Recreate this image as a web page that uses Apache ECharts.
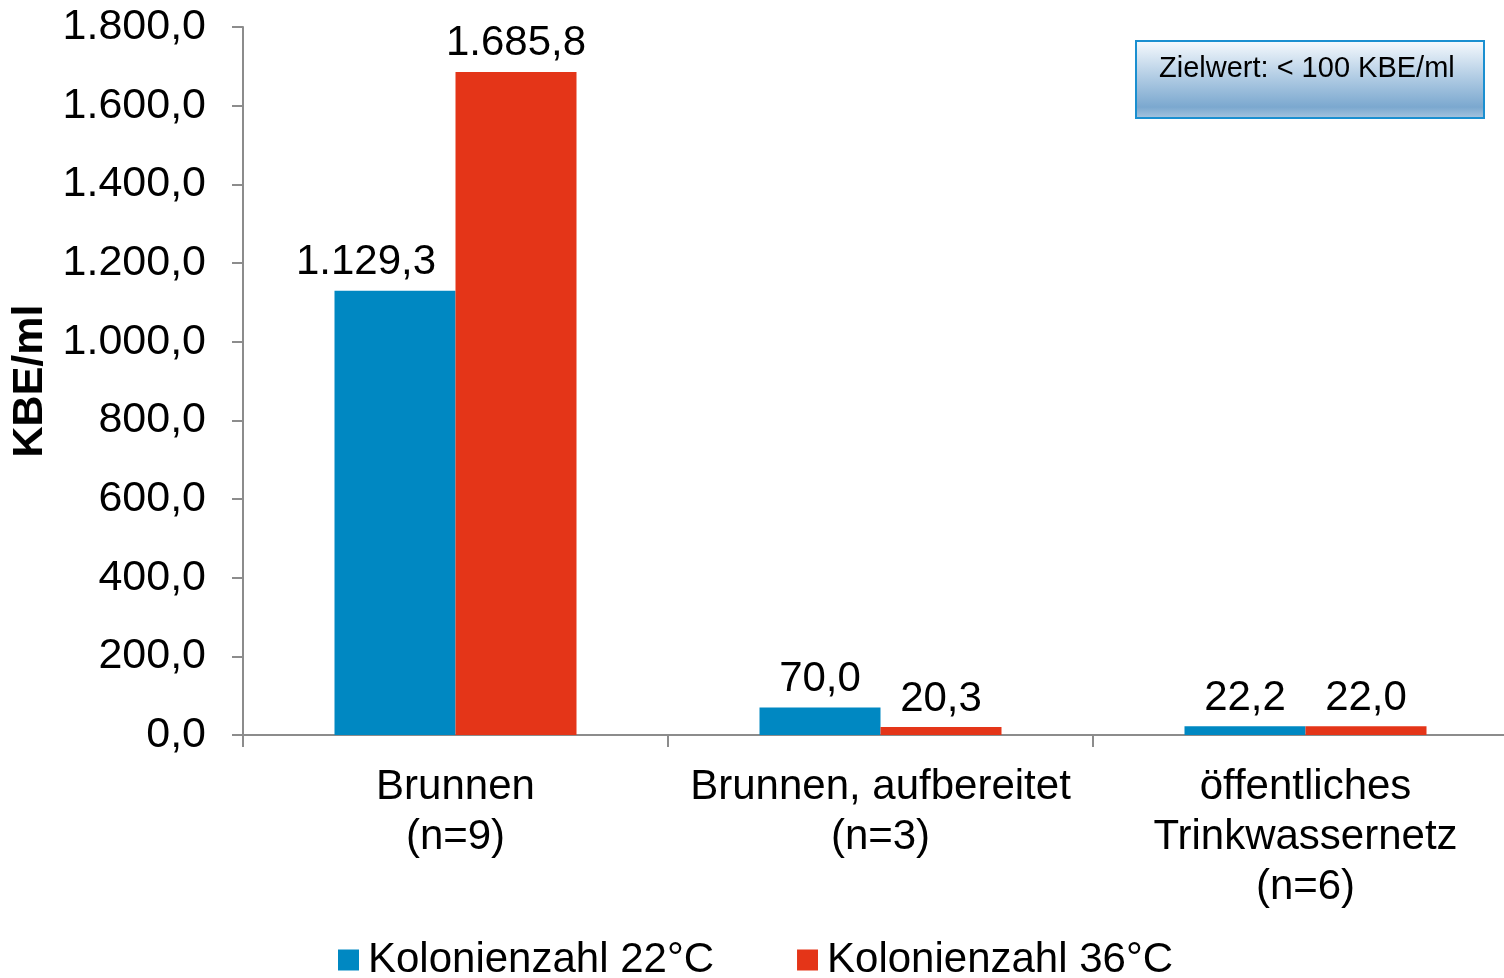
<!DOCTYPE html>
<html style="height: 100%">
<head>
    <meta charset="utf-8">
    <title>Kolonienzahl</title>
    <script src="https://cdn.jsdelivr.net/npm/echarts/dist/echarts.min.js"></script>
</head>
<body style="height: 100%; margin: 0; background: #fff">
    <div id="main" style="width: 1504px; height: 978px"></div>
    <script type="text/javascript">
        // Daten
        var categories = ['Brunnen\n(n=9)', 'Brunnen, aufbereitet\n(n=3)', 'öffentliches\nTrinkwassernetz\n(n=6)'];
        var kolonien22 = [1129.3, 70.0, 22.2];
        var kolonien36 = [1685.8, 20.3, 22.0];
        var seriesNames = ['Kolonienzahl 22°C', 'Kolonienzahl 36°C'];

        // deutsche Zahlenformatierung: 1.129,3
        function fmt(v) {
            var parts = Number(v).toFixed(1).split('.');
            var int = parts[0].replace(/\B(?=(\d{3})+(?!\d))/g, '.');
            return int + ',' + parts[1];
        }

        var font = 'Liberation Sans, Arial, sans-serif';
        var myChart = echarts.init(document.getElementById('main'));

        var labelStyle = {
            show: true,
            position: 'top',
            distance: 7,
            fontSize: 42,
            fontFamily: font,
            color: '#000',
            formatter: function (p) { return fmt(p.value); }
        };

        // erstes Label leicht nach links verschoben (wie im Original)
        var data22 = kolonien22.map(function (v, i) {
            return i === 0 ? { value: v, label: { offset: [-29, 0] } } : v;
        });

        var option = {
            animation: false,
            grid: { left: 243, top: 27, bottom: 243, width: 1275, outerBoundsMode: 'none', containLabel: false },
            legend: {
                bottom: -8,
                left: 333,
                itemWidth: 21,
                itemHeight: 21,
                itemGap: 83,
                icon: 'rect',
                textStyle: { fontSize: 42, fontFamily: font, color: '#000', padding: [0, 0, 0, 4] },
                data: seriesNames
            },
            xAxis: {
                type: 'category',
                data: categories,
                axisLine: { lineStyle: { color: '#8c8c8c', width: 2 } },
                axisTick: { show: true, length: 12, lineStyle: { color: '#8c8c8c', width: 2 } },
                axisLabel: { fontSize: 42, fontFamily: font, color: '#000', lineHeight: 50, margin: 27, interval: 0 }
            },
            yAxis: {
                type: 'value',
                min: 0,
                max: 1800,
                interval: 200,
                name: 'KBE/ml',
                nameLocation: 'middle',
                nameGap: 188,
                nameTextStyle: { fontSize: 43, fontWeight: 'bold', fontFamily: font, color: '#000' },
                axisLine: { show: true, lineStyle: { color: '#8c8c8c', width: 2 } },
                axisTick: { show: true, length: 11, lineStyle: { color: '#8c8c8c', width: 2 } },
                splitLine: { show: false },
                axisLabel: {
                    fontSize: 43, fontFamily: font, color: '#000', margin: 37,
                    formatter: fmt
                }
            },
            series: [
                {
                    name: seriesNames[0],
                    type: 'bar',
                    data: data22,
                    barWidth: 121,
                    barGap: '0%',
                    itemStyle: { color: '#0088c2' },
                    label: labelStyle
                },
                {
                    name: seriesNames[1],
                    type: 'bar',
                    data: kolonien36,
                    barWidth: 121,
                    itemStyle: { color: '#e43518' },
                    label: labelStyle
                }
            ],
            graphic: [
                {
                    type: 'rect',
                    left: 1135,
                    top: 40,
                    shape: { width: 348, height: 77 },
                    style: {
                        fill: new echarts.graphic.LinearGradient(0, 0, 0, 1, [
                            { offset: 0, color: '#f8fbfe' },
                            { offset: 0.45, color: '#b4cee5' },
                            { offset: 0.85, color: '#7ba8cf' },
                            { offset: 1, color: '#a9c6e0' }
                        ]),
                        stroke: '#1a8fd0',
                        lineWidth: 2
                    }
                },
                {
                    type: 'text',
                    left: 1159,
                    top: 54,
                    style: {
                        text: 'Zielwert: < 100 KBE/ml',
                        fontSize: 29,
                        fontFamily: font,
                        fill: '#000'
                    }
                }
            ]
        };

        myChart.setOption(option);
    </script>
</body>
</html>
